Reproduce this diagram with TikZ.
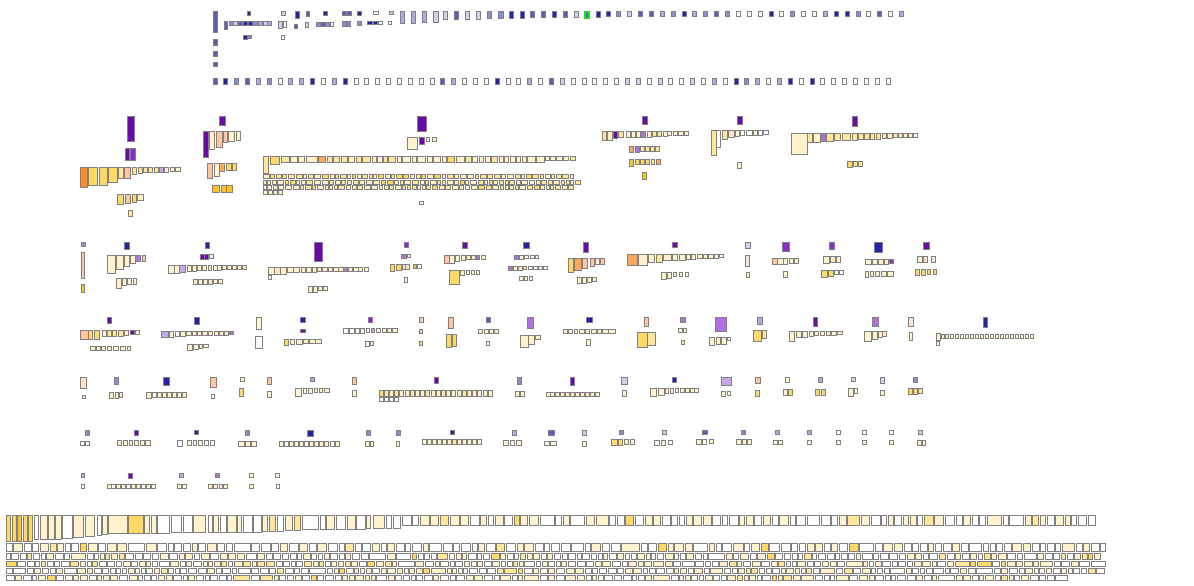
\documentclass[tikz,border=0pt]{standalone}
\definecolor{bd}{HTML}{808080}
\definecolor{W}{HTML}{FFFFFF}
\definecolor{B1}{HTML}{2222AA}
\definecolor{B2}{HTML}{5C5CC0}
\definecolor{B3}{HTML}{8C8CD8}
\definecolor{B4}{HTML}{AAAAE6}
\definecolor{B5}{HTML}{D0D0F2}
\definecolor{P1}{HTML}{6A0AAA}
\definecolor{P2}{HTML}{8A2BD0}
\definecolor{P3}{HTML}{B070E0}
\definecolor{P4}{HTML}{CBA4EE}
\definecolor{O1}{HTML}{FF8A2A}
\definecolor{O2}{HTML}{FFA65A}
\definecolor{O3}{HTML}{FFC4A0}
\definecolor{O4}{HTML}{FFE2CC}
\definecolor{Y1}{HTML}{FFC125}
\definecolor{Y2}{HTML}{FFD966}
\definecolor{Y3}{HTML}{FFE699}
\definecolor{Y4}{HTML}{FFF2CC}
\definecolor{GR}{HTML}{22DD22}
\tikzset{bx/.style={draw=bd,line width=1pt}}
\newcommand\bxs[1]{\foreach \xx/\yy/\ww/\hh/\cc in {#1}{\draw[bx,fill=\cc] (\xx,\yy) rectangle ++(\ww,\hh);}}
\newcommand\crow[6]{\foreach \cc [count=\ii from 0] in {#6}{\draw[bx,fill=\cc] ({#2+\ii*#3},#1) rectangle ++(#4,#5);}}
\newcommand\pickA{\pgfmathrandominteger{\rc}{0}{39}%
 \ifnum\rc<22 \def\rcol{W}\else\ifnum\rc<36 \def\rcol{Y4}\else\ifnum\rc<39 \def\rcol{Y3}\else\def\rcol{Y2}\fi\fi\fi
 \pgfmathrandominteger{\rr}{1}{12}\ifnum\rr=1 \pgfmathsetmacro\rw{\rw*2}\fi}
\newcommand\pickB{\pgfmathrandominteger{\rc}{0}{19}%
 \ifnum\rc<10 \def\rcol{Y4}\else\ifnum\rc<18 \def\rcol{Y3}\else\def\rcol{Y2}\fi\fi}
\newcommand\gen[7]{\def\cx{#2}%
 \loop
  \pgfmathrandominteger{\rw}{#5}{#6}%
  #7%
  \draw[bx,fill=\rcol] (\cx,#1) rectangle ++(\rw,#4);%
  \pgfmathsetmacro\cx{\cx+\rw+1.6}%
 \ifdim\cx pt<#3pt\repeat}
\begin{document}
\begin{tikzpicture}[x=1pt,y=-1pt]
\pgfmathsetseed{7}
\useasboundingbox (0,0) rectangle (1194,586);
\fill[white] (0,0) rectangle (1194,586);
% ---------- top blue section ----------
\bxs{213/12/4/21/B2, 213/40/4/6/B2, 213/52/4/5/B2, 213/63/4/4/B2,
247/12/3/4/B1, 281/12/4/4/B5, 295/12/4/7/B1, 306/12/3/5/B2, 323/12/4/4/B1, 342/12/4/4/B2, 347/12/4/4/B2, 357/12/4/4/B1, 373/12/5/3/W, 389/12/4/3/B5,
224/22/3/8/B2, 229/22/4/4/B3, 233/22/4/4/B5, 238/22/4/4/B2, 243/22/4/4/B1, 248/22/4/4/B1, 253/22/4/4/B3, 258/22/4/4/B4, 263/22/4/4/B5, 267/22/4/4/B4,
278/22/4/7/B5, 283/22/3/6/W, 294/25/3/4/B2, 305/23/3/5/B5, 316/23/4/4/B3, 321/23/4/4/B2, 325/23/4/4/B3, 330/23/3/4/W,
342/22/4/5/B3, 347/22/3/5/B3, 357/22/4/4/B3, 367/22/5/3/B1, 373/22/4/3/B1, 378/22/4/3/W, 388/22/3/3/W,
243/36/4/4/B1, 248/36/3/3/B3, 281/36/3/4/W}
\bxs{400/12/4/12/B4, 411/12/4/12/B4, 422/12/4/11/B4, 433/12/5/11/B5, 443/12/4/8/B5, 454/12/4/8/B2, 465/12/4/8/B5, 476/12/4/8/B5, 487/12/4/7/B3, 498/12/5/7/B3, 509/12/4/7/B1, 520/12/4/7/B1, 530/12/4/6/B2, 541/12/4/6/B2, 552/12/4/6/B1, 563/12/4/6/B2, 574/12/4/6/B5, 596/12/4/6/B1}
\draw[draw=GR,line width=1.6pt,fill=B2] (585,12) rectangle ++(4,6);
\crow{12}{606}{10.87}{4}{5}{B1,B3,B5,B2,B2,B4,B3,B1,B4,B3,B2,B3,W,W,W,B1,W,B3,W,W,B4,B1,B1,B3,W,B2,W,B4}
\crow{79}{213}{10.855}{4}{5}{B2,B1,B3,B2,B4,B3,W,B4,B4,B1,W,B4,B1,W,W,W,W,W,W,W,W,B2,B4,W,W,W,B1,W,W,B4,W,B2,B5,W,W,W,W,W,B5,B5,W,B5,W,W,B5,W,B4,W,B1,B3,B4,W,B4,B1,W,B1,W,W,W,W,W,W,W}
% ---------- purple / orange section ----------
\bxs{127/116/7/25/P1, 125/148/4/12/P1, 130/148/5/12/P2,
80/167/7/20/O1, 88/167/9/18/Y2, 99/167/8/18/Y2, 108/167/9/15/Y2, 118/167/5/11/Y3, 124/167/6/11/O3, 132/167/4/7/Y3, 138/167/4/6/Y3, 143/167/4/5/Y3, 148/167/4/5/Y3, 154/167/4/5/Y3, 159/167/4/5/P4, 164/167/4/5/Y4, 170/167/4/4/Y4, 175/167/5/4/Y4,
117/194/6/10/Y2, 125/194/5/9/O3, 132/194/4/8/Y2, 137/194/6/6/Y4, 128/210/4/6/Y3}
\bxs{219/116/6/9/P1,
203/131/5/26/P1, 209/131/5/18/Y4, 216/131/6/16/O3, 223/131/4/11/O3, 228/131/6/10/Y4, 236/131/4/9/Y4,
207/163/5/15/O3, 214/163/5/13/Y4, 219/163/5/8/O2, 226/163/5/7/Y2, 232/163/4/7/Y2,
212/185/7/7/Y1, 221/185/5/7/Y1, 226/185/6/7/Y1}
\bxs{417/116/9/15/P1, 407/137/10/12/Y4, 419/137/5/7/P1, 426/137/3/4/Y4, 432/137/4/4/Y4,
263/156/5/17/Y3, 270/156/9/8/Y2, 281/156/8/6/Y3,
290/156/7/6/Y4, 298/156/6/6/Y4, 306/156/11/6/Y4, 318/156/7/6/O2, 327/156/5/6/Y3, 333/156/6/6/Y3, 341/156/6/6/Y3, 348/156/6/6/Y4, 356/156/5/6/Y3, 362/156/8/6/Y3, 372/156/4/6/Y4, 377/156/5/6/Y4, 383/156/4/6/Y3, 388/156/7/6/Y3, 397/156/4/6/Y4, 402/156/8/6/Y4, 412/156/4/6/Y4, 417/156/8/6/Y4, 427/156/5/6/Y4, 433/156/7/6/Y4, 442/156/4/6/Y4, 447/156/7/6/Y2, 456/156/8/6/Y4, 465/156/6/6/Y3, 472/156/5/6/Y4, 479/156/4/6/Y4, 485/156/5/6/Y4, 491/156/6/6/Y3, 499/156/4/6/Y4, 504/156/4/6/Y4, 510/156/5/6/Y4, 516/156/4/6/Y4, 522/156/4/6/Y4, 527/156/8/6/Y4, 536/156/8/6/Y4, 545/156/4/4/Y4, 550/156/5/4/Y4, 556/156/6/4/Y4, 563/156/5/4/Y4, 570/156/5/4/Y3,
263/190/4/4/Y4, 268/190/4/4/Y4, 273/190/4/4/Y4, 278/190/4/4/Y4, 419/201/4/3/Y4}
\gen{174}{263}{575}{4}{3}{6}{\pickB}
\gen{180}{263}{576}{4}{3}{6}{\pickB}
\gen{185}{263}{572}{4}{3}{6}{\pickB}
\bxs{642/116/5/8/P1,
602/131/4/9/Y3, 607/131/5/9/Y4, 613/131/4/7/P1, 618/131/5/6/Y3, 626/131/4/6/Y4, 631/131/4/6/Y4, 636/131/4/6/Y4, 641/131/4/6/P3, 647/131/4/6/Y4, 652/131/4/5/Y3, 657/131/4/5/Y3, 663/131/4/5/Y4, 667/131/4/4/Y4, 673/131/4/4/Y4, 678/131/5/4/Y4, 684/131/4/4/Y4,
629/146/4/6/O2, 635/146/4/6/P3, 640/146/4/5/Y3, 645/146/4/5/Y3, 650/146/4/5/Y3, 655/146/4/5/Y3,
629/159/4/7/Y1, 635/159/4/5/Y2, 640/159/4/5/Y2, 645/159/4/5/Y2, 651/159/3/5/Y3, 656/159/4/5/O2, 642/172/4/7/Y1}
\bxs{737/116/5/8/P1, 711/130/5/25/Y3, 716/130/4/17/W, 722/130/5/9/Y3, 728/130/6/7/O4, 735/130/4/6/Y4, 740/130/4/5/W, 746/130/6/5/W, 753/130/4/5/Y4, 758/130/4/5/W, 763/130/5/4/W, 737/162/4/6/Y4}
\bxs{852/116/5/10/P1,
791/133/16/21/Y4, 807/133/5/9/Y3, 813/133/7/9/Y4, 821/133/4/8/P3, 826/133/7/8/Y3, 834/133/6/7/Y3, 842/133/8/7/Y3, 852/133/5/7/Y3, 858/133/5/6/Y3, 864/133/5/6/Y3, 870/133/4/6/Y3, 876/133/4/6/Y3, 882/133/4/5/Y3, 887/133/5/5/Y4, 893/133/4/4/Y4, 898/133/4/4/Y4, 903/133/4/4/Y4, 908/133/4/4/Y4, 913/133/4/4/W,
847/161/5/6/Y2, 853/161/4/5/Y3, 858/161/4/5/Y3}
% ---------- row band 240-290 ----------
\bxs{81/242/4/4/B3, 81/252/3/26/O3, 81/284/3/8/Y1,
124/242/5/7/B1, 107/255/8/18/Y4, 116/255/7/14/Y4, 124/255/5/11/Y4, 130/255/5/8/Y4, 135/255/5/6/P3, 142/255/3/6/O3,
116/278/5/10/Y4, 122/278/4/7/Y4, 127/278/4/6/Y4, 133/278/3/6/Y4,
205/242/4/6/B1, 200/254/4/5/P1, 204/254/4/5/P1, 209/254/4/4/Y4,
168/265/6/8/Y4, 174/265/5/8/Y4, 179/265/6/7/P4, 187/265/4/6/Y4, 192/265/4/6/Y4, 197/265/4/5/Y4, 202/265/4/5/Y4, 208/265/3/5/O4, 213/265/4/5/Y4, 217/265/4/5/Y4, 222/265/4/4/Y4, 227/265/4/4/Y4, 232/265/4/4/Y4, 237/265/4/4/Y4, 242/265/4/4/O4,
193/279/4/5/Y4, 198/279/4/5/Y4, 203/279/4/5/Y4, 208/279/4/5/O4, 213/279/4/4/Y4, 218/279/4/4/Y4}
\bxs{314/242/8/19/P1,
268/267/6/7/Y4, 274/267/6/7/O4, 280/267/6/7/Y4, 287/267/6/5/Y4, 293/267/6/5/Y4, 301/267/4/5/Y4, 306/267/5/5/Y4, 312/267/4/5/Y4, 317/267/4/4/Y4, 322/267/5/4/Y4, 328/267/4/4/Y4, 333/267/5/4/Y4, 338/267/5/4/Y4, 343/267/4/4/B3, 348/267/4/4/Y4, 353/267/5/4/Y4, 358/267/4/4/Y4, 364/267/4/4/Y4, 268/275/3/4/W,
308/286/4/6/Y4, 313/286/4/6/Y4, 318/286/4/4/Y4, 323/286/4/4/Y4}
\bxs{404/242/4/5/P2, 401/254/5/4/P3, 407/254/3/3/Y4, 390/264/4/7/Y2, 396/264/5/6/Y2, 402/264/3/5/O4, 405/264/4/5/Y4, 413/264/3/4/Y1, 417/264/4/4/W, 404/277/3/5/Y4,
462/242/5/6/P1, 444/255/5/8/O3, 449/255/5/8/Y4, 455/255/4/6/Y4, 461/255/4/5/Y4, 466/255/4/4/Y4, 471/255/4/4/Y4, 476/255/3/4/P3, 481/255/4/4/Y4, 449/270/10/14/Y2, 460/270/4/5/Y4, 466/270/3/4/Y4, 471/270/3/4/Y4, 476/270/3/4/Y4,
523/242/6/6/B1, 514/255/4/4/P3, 519/255/4/4/Y4, 524/255/4/3/W, 530/255/4/3/W, 535/255/3/3/W, 508/266/4/4/P3, 513/266/4/4/Y4, 518/266/4/4/Y4, 523/266/3/3/Y4, 528/266/4/3/W, 533/266/4/3/W, 538/266/4/3/W, 543/266/4/3/W, 519/276/4/4/Y4, 524/276/3/4/Y4, 529/276/3/4/Y4,
583/242/5/10/P1, 568/258/5/14/Y2, 574/258/7/12/O2, 582/258/5/10/O3, 590/258/4/8/O3, 595/258/4/6/Y4, 600/258/4/6/O3, 577/277/4/6/Y4, 582/277/4/6/Y4, 587/277/4/5/Y4, 592/277/4/4/Y4}
\bxs{672/242/5/5/P1, 627/254/10/11/O2, 638/254/9/11/Y4, 648/254/6/8/Y4, 656/254/6/8/Y3, 663/254/8/6/Y4, 672/254/5/6/Y4, 679/254/6/6/Y4, 686/254/4/5/Y4, 691/254/4/5/Y4, 697/254/5/4/Y4, 703/254/4/4/Y4, 708/254/5/4/Y4, 714/254/4/4/W, 719/254/4/3/W,
661/272/5/7/Y4, 667/272/4/6/Y4, 673/272/3/4/Y4, 679/272/3/4/Y4, 685/272/3/4/W,
745/242/5/6/B5, 745/255/4/11/O4, 746/272/3/5/Y4,
782/242/7/9/P2, 772/258/5/6/O3, 777/258/6/6/Y4, 783/258/4/6/Y4, 789/258/4/5/Y4, 794/258/4/5/Y4, 783/271/4/6/Y4,
829/242/5/7/P2, 823/256/6/7/Y4, 830/256/5/6/O4, 836/256/4/6/Y4, 821/270/6/7/Y2, 828/270/5/6/Y2, 834/270/4/4/W, 839/270/4/4/W,
874/242/8/10/B1, 865/259/6/5/Y4, 872/259/5/5/Y4, 878/259/5/5/Y4, 884/259/4/5/Y4, 889/259/4/4/P2, 865/271/3/6/Y4, 870/271/3/5/Y4, 875/271/4/5/Y4, 881/271/5/5/Y4, 887/271/6/5/Y4,
923/242/6/7/P1, 917/256/5/6/Y4, 923/256/4/6/O4, 931/256/4/6/O4, 915/269/4/6/Y2, 921/269/4/6/Y2, 927/269/3/5/Y2, 933/269/3/5/Y2}
% ---------- row band 317-350 ----------
\bxs{107/317/4/6/P1, 80/330/8/9/O3, 88/330/4/9/Y2, 94/330/5/9/Y2, 102/330/4/6/Y4, 107/330/4/6/Y3, 112/330/4/6/Y3, 118/330/5/6/Y3, 124/330/4/5/Y4, 130/330/4/4/P1, 135/330/4/4/Y4,
90/346/5/4/Y4, 96/346/4/4/Y4, 101/346/4/4/Y4, 107/346/4/4/Y4, 113/346/5/4/Y4, 120/346/5/4/Y4, 127/346/3/4/Y4,
194/317/5/7/B1, 161/331/7/6/P4, 169/331/4/6/Y4, 175/331/4/5/W, 180/331/5/5/Y4, 186/331/5/4/Y4, 192/331/4/4/Y4, 197/331/4/4/Y4, 202/331/5/4/Y4, 208/331/4/4/Y4, 214/331/4/4/Y4, 219/331/4/4/Y4, 224/331/4/4/Y4, 229/331/4/3/P3,
187/344/5/6/Y4, 193/344/5/5/Y4, 199/344/3/4/Y4, 203/344/5/3/Y4,
256/317/5/12/Y4, 255/336/7/12/W,
300/317/5/5/B1, 300/329/5/3/P1, 284/339/4/6/Y2, 290/339/4/5/Y4, 296/339/6/5/Y4, 303/339/5/4/Y4, 309/339/6/4/Y4, 315/339/6/4/Y4,
368/317/4/5/P2, 343/328/5/5/W, 349/328/5/5/W, 355/328/4/5/W, 360/328/4/5/Y4, 366/328/3/4/W, 371/328/3/4/P4, 376/328/4/4/Y4, 382/328/4/4/Y4, 387/328/4/4/Y4, 392/328/5/4/Y4, 365/341/4/5/Y4, 370/341/3/4/Y4,
419/317/4/5/O3, 419/329/3/4/O3, 419/341/3/4/Y2,
448/317/5/11/O3, 446/334/5/13/Y2, 452/334/4/12/Y2,
486/317/4/5/B2, 478/329/4/4/Y4, 484/329/4/4/Y4, 489/329/4/4/Y4, 494/329/4/4/Y4, 486/341/3/4/Y4,
527/317/6/11/P3, 520/335/8/12/Y4, 528/335/6/9/Y4, 535/335/5/4/Y4,
586/317/6/5/B1, 563/329/4/4/Y4, 568/329/4/4/Y4, 574/329/3/4/Y4, 579/329/5/4/Y4, 585/329/4/4/Y4, 591/329/5/4/Y4, 597/329/4/4/Y4, 602/329/6/4/Y4, 608/329/7/4/Y4, 586/339/4/6/Y4,
644/317/4/9/O3, 637/332/10/15/Y2, 647/332/8/13/Y3}
\bxs{680/317/5/5/P3, 678/328/4/4/Y4, 683/328/3/4/Y4, 681/340/3/4/Y3,
715/317/11/14/P3, 709/337/5/8/Y4, 716/337/4/7/Y4, 721/337/5/7/Y4, 727/337/3/3/W,
757/317/5/7/B4, 753/330/8/11/Y2, 762/330/4/8/Y3,
813/317/4/9/P1, 789/331/5/10/Y4, 796/331/5/6/Y4, 802/331/5/6/Y4, 809/331/4/5/Y4, 814/331/4/4/Y4, 820/331/4/4/Y4, 826/331/4/4/Y4, 831/331/5/4/Y4, 837/331/5/3/Y4,
872/317/6/9/P3, 864/331/7/10/Y4, 872/331/5/8/Y4, 878/331/4/6/Y4, 882/331/4/5/Y4,
908/317/5/9/O4, 909/332/3/8/Y4,
983/317/4/10/B1, 936/333/4/7/Y4, 936/341/3/4/W}
\crow{334}{941}{4.95}{3}{4}{Y4,Y4,Y4,Y4,W,Y4,Y4,Y4,Y4,Y4,Y4,Y4,Y4,Y4,Y4,Y4,Y4,Y4,Y4}
% ---------- row band 377-400 ----------
\bxs{80/377/6/11/O4, 82/395/3/3/Y4,
114/377/4/7/B3, 109/392/4/6/Y4, 115/392/3/6/Y4, 119/392/3/5/Y4,
163/377/6/8/B1, 146/392/5/6/Y4, 152/392/4/5/W, 157/392/4/5/Y4, 162/392/4/5/Y4, 167/392/4/5/Y4, 172/392/4/5/Y4, 177/392/4/5/Y4, 182/392/4/5/Y4,
210/377/6/10/O3, 211/394/3/4/W,
240/377/4/4/Y4, 239/388/4/8/Y2,
267/377/4/7/O3, 267/391/4/6/Y4,
310/377/4/4/B4, 295/388/6/8/Y4, 303/388/3/5/W, 308/388/4/5/Y4, 314/388/3/4/Y4, 319/388/3/4/Y4, 324/388/5/4/Y4,
352/377/4/7/O3, 352/390/4/6/Y4,
434/377/4/6/P1,
517/377/4/7/B3, 515/391/4/5/Y4, 520/391/4/5/Y4,
570/377/4/8/P1,
621/377/6/7/B5, 622/390/4/6/Y4,
672/377/4/5/B1, 650/388/6/8/Y4, 658/388/6/7/Y4, 665/388/3/5/W, 670/388/3/5/Y4, 675/388/3/4/W, 680/388/4/4/Y4, 685/388/4/4/Y4, 690/388/4/4/Y4, 694/388/4/4/Y4,
721/377/10/8/P4, 721/391/4/5/Y4, 727/391/3/4/W,
755/377/5/6/O3, 755/390/4/6/Y2,
785/377/4/5/Y4, 783/389/4/6/Y4, 788/389/4/6/Y2,
818/377/4/5/B4, 815/389/4/6/Y2, 821/389/4/6/Y2,
851/377/4/4/B5, 848/388/5/8/Y4, 854/388/3/5/W,
880/377/4/6/B5, 880/390/4/5/Y4,
913/377/4/5/B3, 908/388/4/6/Y2, 913/388/4/6/Y2, 918/388/4/5/Y3}
\crow{390}{379}{5.2}{4}{6}{Y2,Y3,Y4,Y3,Y4,Y4,Y3,Y4,Y4,Y3,Y4,Y4,Y3,Y4,Y4,Y4,Y3,Y4,Y4,Y4,Y4,Y4}
\crow{397}{379}{5.2}{4}{4}{W,W,W,W}
\crow{392}{546}{4.95}{4}{4}{Y4,Y4,Y4,Y4,Y4,Y4,Y4,Y4,Y4,Y4,Y4}
% ---------- row band 430-450 ----------
\bxs{85/430/4/5/B3, 80/441/4/4/W, 85/441/4/4/W,
134/430/4/5/P1, 117/440/4/5/Y4, 123/440/4/5/Y4, 129/440/3/5/Y4, 134/440/4/5/Y4, 140/440/4/5/Y4, 145/440/5/5/Y4,
194/430/4/4/B1, 177/440/5/6/W, 187/440/4/5/Y4, 193/440/3/5/W, 198/440/4/5/Y4, 204/440/4/5/W, 210/440/4/5/W,
245/430/4/5/B3, 238/441/6/5/Y4, 245/441/5/5/Y4, 251/441/5/5/Y4,
307/430/6/6/B1,
366/430/4/5/B3, 365/441/4/5/Y4, 370/441/3/5/Y4,
396/430/4/5/B3, 396/441/3/5/Y4,
450/430/4/4/B1,
512/430/4/5/B4, 503/440/5/5/Y4, 510/440/4/5/W, 516/440/5/5/Y4,
548/430/6/5/B2, 544/441/5/4/W, 550/441/6/4/Y4,
582/430/4/5/B5, 582/441/4/5/Y4,
619/430/4/4/B3, 611/439/6/6/Y2, 618/439/4/6/Y2, 624/439/4/5/Y4, 630/439/4/5/Y4,
662/430/4/4/B5, 654/440/5/5/W, 661/440/4/5/Y4, 668/440/4/4/W,
702/430/5/4/B2, 696/439/5/5/Y4, 702/439/4/5/W, 709/439/4/4/Y4,
741/430/4/4/P3, 736/439/5/5/Y4, 742/439/4/5/Y4, 747/439/4/5/Y4,
775/430/4/4/B4, 773/440/4/4/W, 778/440/4/4/Y4,
807/430/4/4/B4, 807/440/4/4/Y4,
836/430/4/4/W, 836/440/4/4/Y4,
862/430/4/4/W, 862/440/4/4/Y4,
889/430/4/4/W, 889/440/4/4/Y4,
918/430/4/4/B5, 917/440/4/5/Y4, 922/440/3/5/Y4}
\crow{441}{279}{5.1}{4}{5}{Y4,W,Y4,Y4,Y4,W,Y4,Y4,Y4,Y4,W,Y4}
\crow{439}{422}{5.0}{4}{5}{W,Y4,Y4,Y4,Y4,Y4,Y3,Y4,Y4,Y4,Y4,Y4}
% ---------- row band 473-490 ----------
\bxs{81/473/3/4/B4, 81/484/3/4/W,
128/473/4/5/P1,
179/473/4/4/P4, 177/484/4/4/Y4, 182/484/4/4/W,
215/473/4/4/P3, 208/484/4/4/Y4, 213/484/4/4/Y4, 219/484/3/4/W, 223/484/4/4/Y4,
249/473/4/4/Y4, 249/484/4/4/Y4,
275/473/4/4/Y4, 276/484/3/4/W}
\crow{484}{107}{4.9}{4}{4}{Y4,W,Y4,Y4,W,Y4,Y4,W,Y4,W}
% ---------- bottom block ----------
\bxs{6/515/4/26/Y2, 12/515/4/26/Y2, 17/515/4/26/Y1, 23/515/4/26/Y2, 28/515/4/26/Y2, 34/515/4/24/W, 40/515/7/24/Y4, 48/515/6/24/Y4, 55/515/6/24/Y4, 62/515/10/23/W, 73/515/10/22/Y4, 85/515/9/21/Y4, 97/515/4/20/W, 102/515/5/19/Y4, 108/515/19/18/Y4, 128/515/15/18/Y2, 144/515/5/18/Y4, 151/515/5/18/Y4, 157/515/12/18/W, 171/515/10/17/W, 183/515/9/17/W, 193/515/12/17/Y4, 208/515/4/17/W, 213/515/5/17/Y4, 220/515/6/17/W, 227/515/9/17/Y4, 237/515/4/17/Y4, 243/515/9/17/W, 253/515/8/17/W, 262/515/5/16/Y4, 269/515/6/16/Y3, 277/515/6/16/W, 285/515/7/15/Y4, 294/515/6/15/Y3, 302/515/16/14/W, 320/515/5/14/W, 326/515/8/14/Y4, 336/515/9/14/W, 347/515/8/14/Y4, 356/515/9/14/W, 366/515/4/13/Y4, 373/515/11/13/Y4, 386/515/5/13/W, 393/515/7/13/W}
\gen{515}{402}{1096}{10}{5}{9}{\pickA}
\gen{543}{6}{1102}{8}{5}{9}{\pickA}
\gen{553}{6}{1102}{6}{4}{8}{\pickA}
\gen{561}{6}{1100}{5}{4}{8}{\pickA}
\gen{568}{6}{1098}{5}{4}{8}{\pickA}
\gen{575}{6}{1066}{5}{4}{8}{\pickA}
\end{tikzpicture}
\end{document}
